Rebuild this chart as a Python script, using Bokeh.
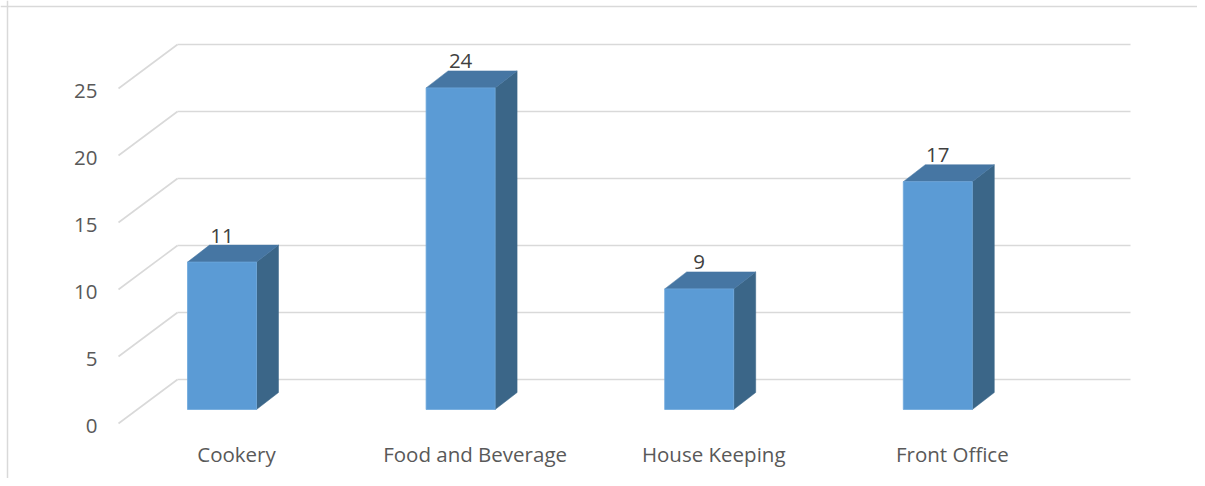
from bokeh.plotting import figure
from bokeh.models import Range1d, Span
from bokeh.core.properties import value
from bokeh.embed import file_html
from bokeh.resources import INLINE

# ---- data ----
categories = ["Cookery", "Food and Beverage", "House Keeping", "Front Office"]
counts = [11, 24, 9, 17]
y_ticks = [0, 5, 10, 15, 20, 25]
y_tick_labels = ["0", "5", "10", "15", "20", "25"]

# ---- layout constants (pixels) ----
W, H = 1197, 478
PX_X = 238.6          # px per category
PX_Y = 13.4           # px per value unit
X0_PX = 221.5         # canvas x of first bar centre
Y0_PX = 423           # canvas y of value 0 on the front plane
BAR_W = 69 / PX_X
BASE = 14 / PX_Y      # bar front face lift above front plane
DEPTH_DX = 22 / PX_X
DEPTH_DY = 17 / PX_Y
WALL_DY = 44 / PX_Y
FLOOR_L = (118 - X0_PX) / PX_X
WALL_L = (177 - X0_PX) / PX_X
WALL_R = (1130 - X0_PX) / PX_X
YLAB_X = (97 - X0_PX) / PX_X
CAT_SHIFT = 14.5 / PX_X
CAT_Y = -(453 - Y0_PX) / PX_Y
BORDER_X = (7 - X0_PX) / PX_X
BORDER_Y = (Y0_PX - 6) / PX_Y
FONT = "Open Sans"
FS = "20.5px"

x_start = -X0_PX / PX_X
y_top = Y0_PX / PX_Y
p = figure(width=W, height=H, output_backend="svg", toolbar_location=None,
           x_range=Range1d(x_start, x_start + W / PX_X),
           y_range=Range1d(y_top - H / PX_Y, y_top),
           x_axis_type=None, y_axis_type=None, min_border=0)
p.outline_line_color = None
p.background_fill_color = "white"

# chart-area border (left and top edges visible)
p.add_layout(Span(location=BORDER_X, dimension="height", line_color="#d9d9d9", line_width=1.5))
p.add_layout(Span(location=BORDER_Y, dimension="width", line_color="#d9d9d9", line_width=1.5))

# gridlines: diagonal side-wall part + back wall part
p.segment(x0=[FLOOR_L] * len(y_ticks), y0=y_ticks,
          x1=[WALL_L] * len(y_ticks), y1=[t + WALL_DY for t in y_ticks],
          line_color="#d9d9d9", line_width=1.6)
p.segment(x0=[WALL_L] * len(y_ticks), y0=[t + WALL_DY for t in y_ticks],
          x1=[WALL_R] * len(y_ticks), y1=[t + WALL_DY for t in y_ticks],
          line_color="#d9d9d9", line_width=1.6)

# bars
xs = list(range(len(categories)))
left = [x - BAR_W / 2 for x in xs]
right = [x + BAR_W / 2 for x in xs]
tops = [BASE + v for v in counts]

side_x = [[r, r + DEPTH_DX, r + DEPTH_DX, r] for r in right]
side_y = [[BASE, BASE + DEPTH_DY, t + DEPTH_DY, t] for t in tops]
p.patches(side_x, side_y, fill_color="#3b6688", line_color="#3b6688", line_width=0.5)

top_x = [[l, r, r + DEPTH_DX, l + DEPTH_DX] for l, r in zip(left, right)]
top_y = [[t, t, t + DEPTH_DY, t + DEPTH_DY] for t in tops]
p.patches(top_x, top_y, fill_color="#4676a3", line_color="#4676a3", line_width=0.5)

p.quad(left=left, right=right, bottom=[BASE] * len(xs), top=tops,
       fill_color="#5b9bd5", line_color="#6fa8dc", line_width=0.8)

# data labels
p.text(x=xs, y=[t + DEPTH_DY for t in tops], text=[str(v) for v in counts],
       text_align="center", text_baseline="middle", y_offset=-9.5,
       text_font=value(FONT), text_font_size=FS, text_color="#404040")

# y tick labels
p.text(x=[YLAB_X] * len(y_ticks), y=y_ticks, text=y_tick_labels,
       text_align="right", text_baseline="middle",
       text_font=value(FONT), text_font_size=FS, text_color="#595959",
       y_offset=2)

# category labels
p.text(x=[x + CAT_SHIFT for x in xs], y=[CAT_Y] * len(xs), text=categories,
       text_align="center", text_baseline="middle",
       text_font=value(FONT), text_font_size=FS, text_color="#595959")

open("out.html", "w").write(file_html(p, INLINE))
